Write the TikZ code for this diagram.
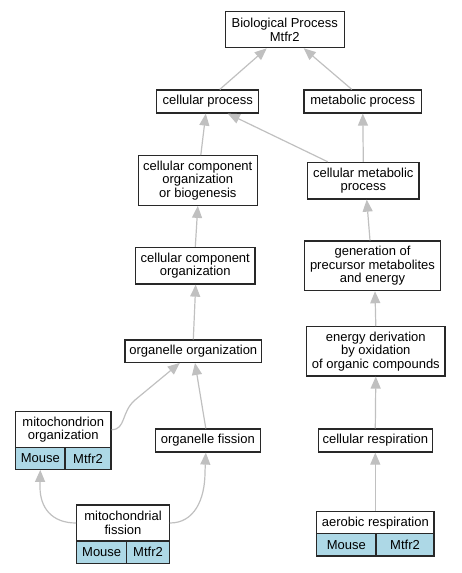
\documentclass[tikz,border=0pt]{standalone}
\usepackage{fontspec}
\setmainfont{Liberation Sans}
\usetikzlibrary{arrows.meta,calc}
\definecolor{annblue}{RGB}{173,216,230}
\definecolor{edgegray}{RGB}{192,192,192}
\definecolor{boxline}{RGB}{40,40,40}
\tikzset{
  box/.style={draw=boxline, line width=1.2pt, fill=white, inner sep=0pt, align=center,
    font=\fontsize{13}{13.4}\selectfont},
  ann/.style={box, fill=annblue},
  edge/.style={draw=edgegray, line width=1.2pt, -{Triangle[length=12pt,width=10pt]}}
}
\begin{document}
\begin{tikzpicture}[x=1pt,y=-1pt]
\path[use as bounding box] (0,0) rectangle (461,573);
% nodes
\node[box, minimum width=119pt, minimum height=36pt] (bp) at (284.7,29.7) {Biological Process\\Mtfr2};
\node[box, minimum width=102pt, minimum height=23pt] (cp) at (207.8,101.5) {cellular process};
\node[box, minimum width=117.7pt, minimum height=23pt] (mp) at (362.8,101.5) {metabolic process};
\node[box, minimum width=119pt, minimum height=49.6pt] (ccob) at (197.8,180.5) {cellular component\\organization\\or biogenesis};
\node[box, minimum width=111.3pt, minimum height=36.7pt] (cmp) at (363.3,180.7) {cellular metabolic\\process};
\node[box, minimum width=119.3pt, minimum height=36.7pt] (cco) at (195.3,265.7) {cellular component\\organization};
\node[box, minimum width=135.7pt, minimum height=49.7pt] (gen) at (372.5,265.8) {generation of\\precursor metabolites\\and energy};
\node[box, minimum width=136.7pt, minimum height=22.3pt] (oo) at (193.3,351.2) {organelle organization};
\node[box, minimum width=138.3pt, minimum height=49.3pt] (ed) at (375.8,351.3) {energy derivation\\by oxidation\\of organic compounds};
\node[box, minimum width=105pt, minimum height=23pt] (of) at (207.8,440.5) {organelle fission};
\node[box, minimum width=114pt, minimum height=23pt] (cr) at (375.3,440.5) {cellular respiration};
% mitochondrion organization
\node[box, minimum width=95.3pt, minimum height=36pt] (mot) at (63.3,429.7) {mitochondrion\\organization};
\node[ann, minimum width=49.3pt, minimum height=21.6pt] (moa) at (40.3,458.5) {Mouse};
\node[ann, minimum width=46pt, minimum height=21.6pt] (mob) at (88,458.5) {Mtfr2};
% mitochondrial fission
\node[box, minimum width=92.6pt, minimum height=36pt] (mft) at (123,523) {mitochondrial\\fission};
\node[ann, minimum width=50pt, minimum height=22.3pt] (mfa) at (101.7,552.2) {Mouse};
\node[ann, minimum width=42.6pt, minimum height=22.3pt] (mfb) at (148,552.2) {Mtfr2};
% aerobic respiration
\node[box, minimum width=117.3pt, minimum height=22pt] (art) at (375.3,522.7) {aerobic respiration};
\node[ann, minimum width=59.3pt, minimum height=22.3pt] (ara) at (346.3,544.8) {Mouse};
\node[ann, minimum width=58pt, minimum height=22.3pt] (arb) at (405,544.8) {Mtfr2};
% edges
\draw[edge] ($(cp.north)+(12,0)$) -- ($(bp.south)+(-18,0)$);
\draw[edge] ($(mp.north)+(-11,0)$) -- ($(bp.south)+(19,0)$);
\draw[edge] ($(ccob.north)+(3,0)$) -- ($(cp.south)+(-2,0)$);
\draw[edge] ($(cmp.north)+(-35.6,0)$) -- ($(cp.south)+(20,0)$);
\draw[edge] (cmp.north) -- (mp.south);
\draw[edge] (cco.north) -- (ccob.south);
\draw[edge] ($(gen.north)+(-2.5,0)$) -- ($(cmp.south)+(3.4,0)$);
\draw[edge] (oo.north) -- ($(cco.south)+(0.4,0)$);
\draw[edge] (ed.north) -- ($(gen.south)+(2.5,0)$);
\draw[edge] ($(of.north)+(-2,0)$) -- ($(oo.south)+(1.7,0)$);
\draw[edge] (cr.north) -- (ed.south);
\draw[edge] (art.north) -- (cr.south);
\draw[edge] (mot.east) .. controls (126,429.7) and (121,412) .. (135,400) -- ($(oo.south)+(-13.5,0)$);
\draw[edge] (mft.west) .. controls (52,523) and (40,508) .. (40,487) -- (moa.south);
\draw[edge] (mft.east) .. controls (194,523) and (205,500) .. (205,472) -- ($(of.south)+(-2,0)$);
\end{tikzpicture}
\end{document}
